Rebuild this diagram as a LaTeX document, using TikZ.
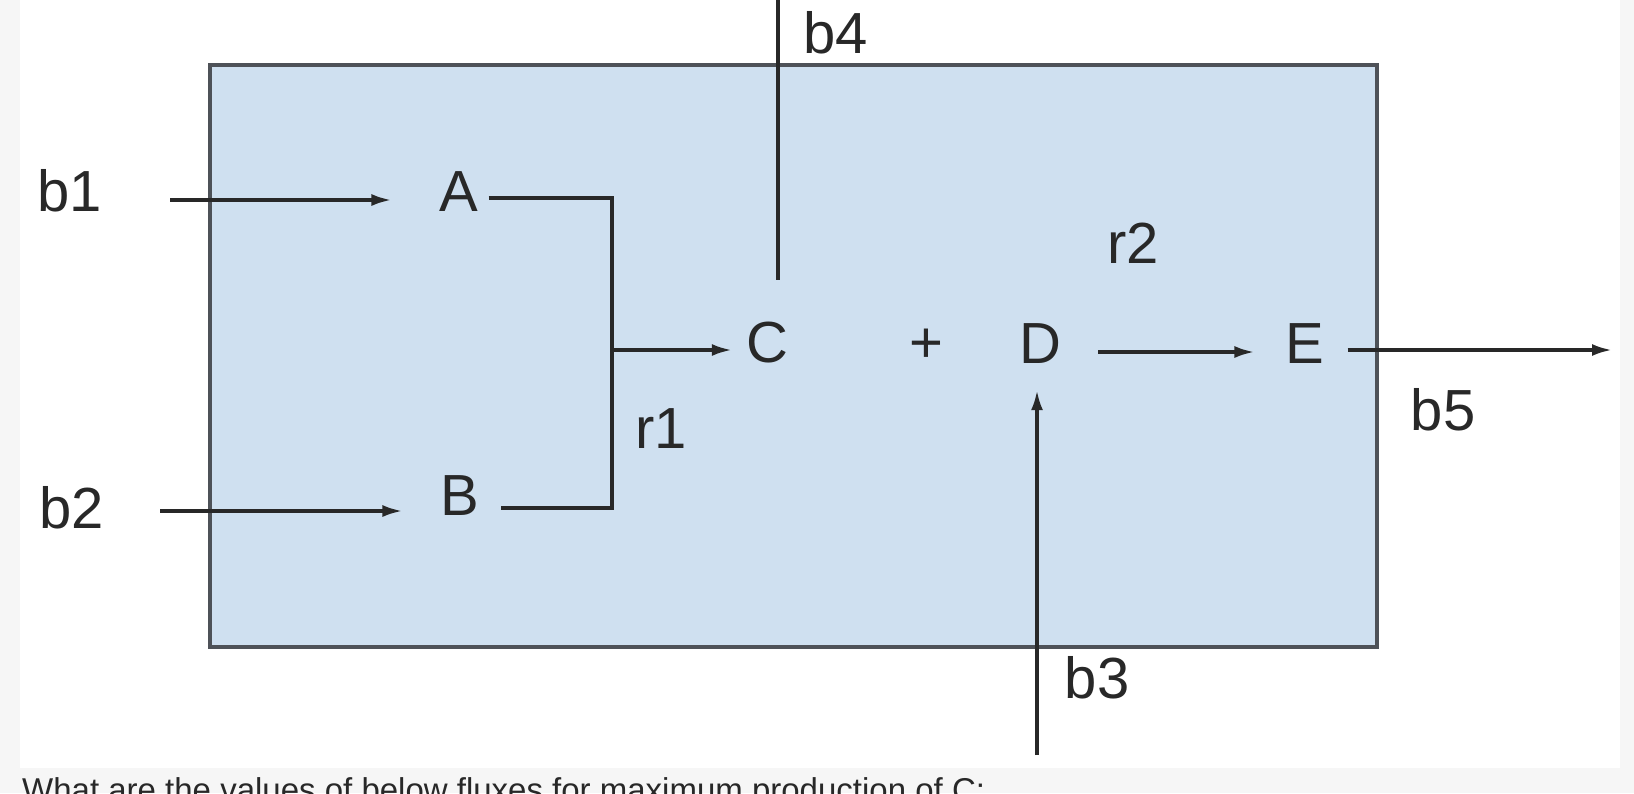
\documentclass[tikz,border=0pt]{standalone}
\usepackage{fontspec}
\setmainfont{Liberation Sans}
\usetikzlibrary{positioning,arrows.meta}
\definecolor{fondo}{RGB}{246,246,246}
\definecolor{caja}{RGB}{207,224,240}
\definecolor{borde}{RGB}{78,82,88}
\definecolor{tinta}{RGB}{40,40,40}

\begin{document}
\begin{tikzpicture}[x=1pt, y=-1pt,
    especie/.style={inner sep=0pt, anchor=base, font=\fontsize{58}{60}\selectfont, text=tinta},
    pregunta/.style={inner sep=0pt, anchor=base west, font=\fontsize{33}{36}\selectfont, text=tinta},
    tramo/.style={line width=3.3pt, draw=tinta},
    flujo/.style={tramo, -{Latex[length=20pt,width=12pt]}}]
  % fondo y panel
  \useasboundingbox (0,0) rectangle (1634,793);
  \clip (0,0) rectangle (1634,793);
  \fill[fondo] (0,0) rectangle (1634,793);
  \fill[white] (20,0) rectangle (1620,768);
  \draw[borde, line width=3.6pt, fill=caja] (210,65) rectangle (1377,647);
  % metabolitos y etiquetas
  \node[especie] (A) at (459,211) {A};
  \node[especie] (B) at (460,515) {B};
  \node[especie] (C) at (767,362) {C};
  \node[especie] (mas) at (926,362) {+};
  \node[especie] (D) at (1040,363) {D};
  \node[especie] (E) at (1305,363) {E};
  \node[especie] (r1) at (661,448) {r1};
  \node[especie] (r2) at (1133,263) {r2};
  \node[especie] (b1) at (70,211) {b1};
  \node[especie] (b2) at (72,528) {b2};
  \node[especie] (b3) at (1097,698) {b3};
  \node[especie] (b4) at (836,53) {b4};
  \node[especie] (b5) at (1443,430) {b5};
  \node[pregunta] (q) at (22,801) {What are the values of below fluxes for maximum production of C:};
  % extremos libres
  \coordinate (b1o) at (170,200);
  \coordinate (b2o) at (160,511);
  \coordinate (b3o) at (1037,755);
  \coordinate (b4o) at (778,0);
  \coordinate (b5o) at (1612,350);
  \coordinate (nudo) at (612,350);
  % flujos
  \draw[flujo, shorten >=48pt] (b1o) -- (b1o -| A.west);
  \draw[flujo, shorten >=38pt] (b2o) -- (b2o -| B.west);
  \draw[tramo] ([xshift=10pt,yshift=13pt]A.base east) -| (nudo) |- ([xshift=21pt,yshift=7pt]B.base east);
  \draw[flujo, shorten >=14pt] (nudo) -- (nudo -| C.west);
  \draw[tramo, shorten >=41pt] (b4o) -- (b4o |- C.north);
  \draw[flujo] ([xshift=37pt,yshift=11pt]D.base east) -- ([xshift=-31pt,yshift=11pt]E.base west);
  \draw[flujo, shorten >=27pt] (b3o) -- (b3o |- D.south);
  \draw[flujo] ([xshift=23pt,yshift=13pt]E.base east) -- (b5o);
\end{tikzpicture}
\end{document}
